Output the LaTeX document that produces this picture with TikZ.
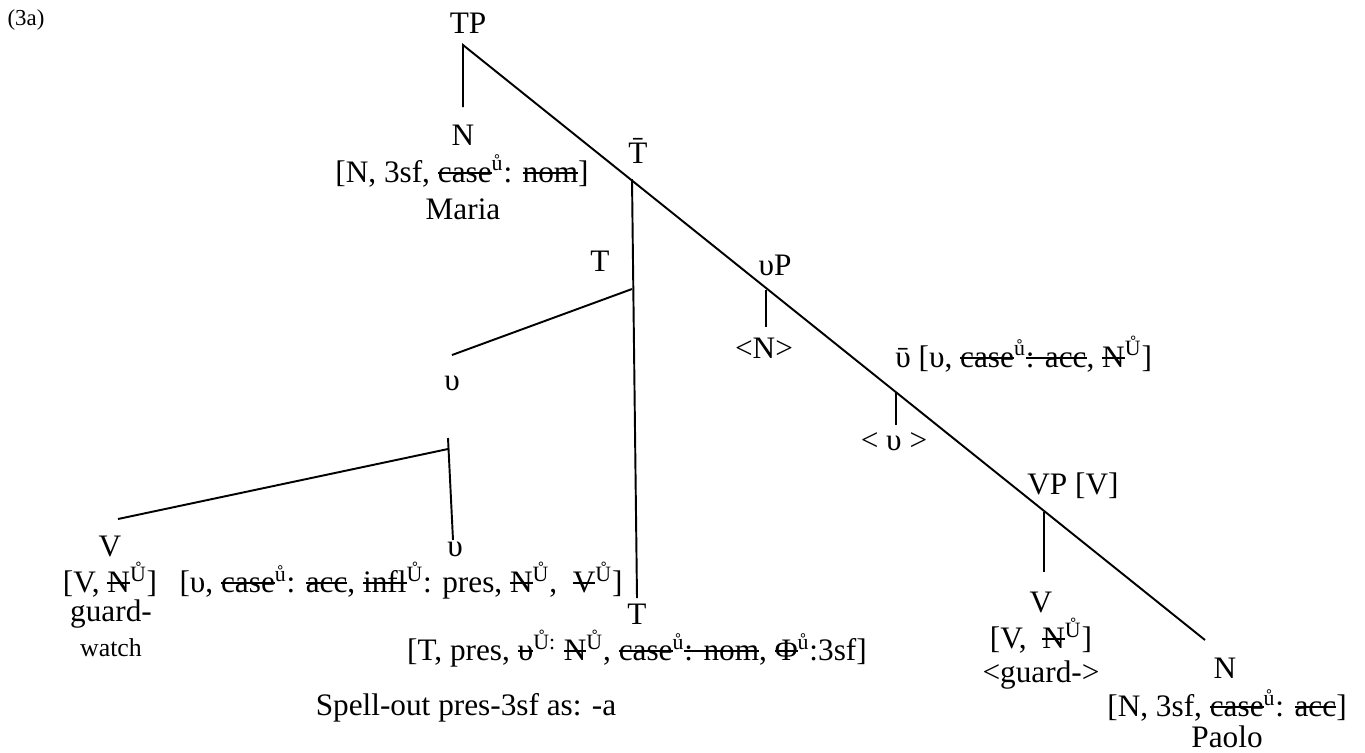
\documentclass[tikz,border=0pt]{standalone}
\usepackage{fontspec}
\setmainfont{Liberation Serif}
\usetikzlibrary{positioning}
\newsavebox{\strkbox}
\newcommand{\ftr}[1]{\textsuperscript{#1}}
\newcommand{\strk}[1]{%
  \sbox\strkbox{#1}%
  \rlap{\rule[.26em]{\wd\strkbox}{.06em}}\usebox\strkbox}

\begin{document}
\begin{tikzpicture}[x=.02cm,y=-.02cm,font=\fontsize{17.8}{21}\selectfont,
    lbl/.style={inner sep=0pt,anchor=base},
    branch/.style={line width=1.1pt}]
  \useasboundingbox (0,0) rectangle (1365,752);
  \node[lbl,font=\fontsize{13}{15}\selectfont] (ex) at (26,25) {(3a)};
  % spine
  \coordinate (tp) at (463,45);
  \coordinate (tpN) at (463,107);
  \coordinate (spEnd) at (1205,640);
  \coordinate (tb) at (632,179);
  \coordinate (tbEnd) at (637,598);
  \coordinate (tj) at (632,289);
  \coordinate (vUp) at (452,355);
  \coordinate (vpj) at (766,290);
  \coordinate (vpN) at (766,327);
  \coordinate (vbj) at (896,392);
  \coordinate (vbN) at (896,425);
  \coordinate (VPj) at (1044,512);
  \coordinate (VPN) at (1044,572);
  \coordinate (vTop) at (448,438);
  \coordinate (vj) at (448,449);
  \coordinate (vBot) at (453,540);
  \coordinate (VUp) at (118,519);
  \draw[branch] (tpN) -- (tp) -- (spEnd);
  \draw[branch] (tb) -- (tbEnd);
  \draw[branch] (tj) -- (vUp);
  \draw[branch] (vpj) -- (vpN);
  \draw[branch] (vbj) -- (vbN);
  \draw[branch] (VPj) -- (VPN);
  \draw[branch] (vTop) -- (vBot);
  \draw[branch] (vj) -- (VUp);
  % labels
  \node[lbl] (tpL) at (468,33) {TP};
  \node[lbl] (maN) at (463,145) {N};
  \node[lbl] (maF) at (462,182) {[N, 3sf, \strk{case}\ftr{ů}: \strk{nom}]};
  \node[lbl] (ma) at (463,219) {Maria};
  \node[lbl] (tbL) at (638,163) {T̄};
  \node[lbl] (tL) at (600,271) {T};
  \node[lbl] (vpL) at (775,275) {υP};
  \node[lbl] (vpTr) at (764,358) {<N>};
  \node[lbl,anchor=base west] (vbL) at (895,367) {ῡ [υ, \strk{case}\ftr{ů}\strk{: acc}, \strk{N}\ftr{Ů}]};
  \node[lbl] (vbTr) at (894,450) {< υ >};
  \node[lbl] (VPL) at (1073,494) {VP [V]};
  \node[lbl] (vL) at (452,390) {υ};
  \node[lbl] (VL) at (110,556) {V};
  \node[lbl] (VF) at (110,592) {[V, \strk{N}\ftr{Ů}]};
  \node[lbl] (VR) at (111,621) {guard-};
  \node[lbl,font=\fontsize{14.7}{17}\selectfont] (VG) at (111,656) {watch};
  \node[lbl] (vlL) at (455,556) {υ};
  \node[lbl] (vlF) at (401,592) {[υ, \strk{case}\ftr{ů}: \strk{acc}, \strk{infl}\ftr{Ů}: pres, \strk{N}\ftr{Ů}, \ \strk{V}\ftr{Ů}]};
  \node[lbl] (TL) at (637,624) {T};
  \node[lbl] (TF) at (637,660) {[T, pres, \strk{υ}\ftr{Ů:} \strk{N}\ftr{Ů}, \strk{case}\ftr{ů}\strk{: nom}, \strk{Φ}\ftr{ů}:3sf]};
  \node[lbl] (spell) at (466,715) {Spell-out pres-3sf as: -a};
  \node[lbl] (VrL) at (1041,612) {V};
  \node[lbl] (VrF) at (1041,648) {[V, \ \strk{N}\ftr{Ů}]};
  \node[lbl] (VrTr) at (1041,682) {<guard->};
  \node[lbl] (paN) at (1225,678) {N};
  \node[lbl] (paF) at (1227,716) {[N, 3sf, \strk{case}\ftr{ů}: \strk{acc}]};
  \node[lbl] (pa) at (1227,747) {Paolo};
\end{tikzpicture}
\end{document}
